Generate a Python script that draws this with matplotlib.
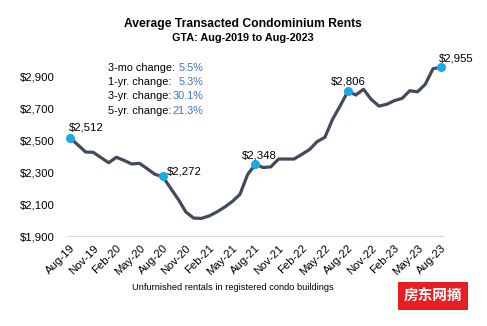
import numpy as np
import matplotlib
matplotlib.use("Agg")
import matplotlib.pyplot as plt
from matplotlib.ticker import StrMethodFormatter

plt.rcParams['font.family'] = ['Liberation Sans', 'DejaVu Sans']

# monthly average transacted rent, Aug-2019 .. Aug-2023
months = ["Aug-19", "Sep-19", "Oct-19", "Nov-19", "Dec-19", "Jan-20", "Feb-20", "Mar-20",
          "Apr-20", "May-20", "Jun-20", "Jul-20", "Aug-20", "Sep-20", "Oct-20", "Nov-20",
          "Dec-20", "Jan-21", "Feb-21", "Mar-21", "Apr-21", "May-21", "Jun-21", "Jul-21",
          "Aug-21", "Sep-21", "Oct-21", "Nov-21", "Dec-21", "Jan-22", "Feb-22", "Mar-22",
          "Apr-22", "May-22", "Jun-22", "Jul-22", "Aug-22", "Sep-22", "Oct-22", "Nov-22",
          "Dec-22", "Jan-23", "Feb-23", "Mar-23", "Apr-23", "May-23", "Jun-23", "Jul-23",
          "Aug-23"]
rents = [2512, 2470, 2425, 2423, 2390, 2358, 2392, 2372,
         2350, 2354, 2320, 2285, 2272, 2200, 2130, 2050,
         2012, 2010, 2025, 2050, 2080, 2115, 2160, 2285,
         2348, 2328, 2332, 2381, 2381, 2381, 2410, 2440,
         2490, 2517, 2630, 2715, 2806, 2781, 2817, 2754,
         2712, 2723, 2746, 2760, 2808, 2801, 2848, 2945,
         2955]

# highlighted points
marked = ["Aug-19", "Aug-20", "Aug-21", "Aug-22", "Aug-23"]

change_labels = ["3-mo change:", "1-yr. change:", "3-yr. change:", "5-yr. change:"]
change_values = ["5.5%", "5.3%", "30.1%", "21.3%"]

W, H = 487, 326
fig = plt.figure(figsize=(W / 100, H / 100), dpi=100)
ax = fig.add_axes([67 / W, 1 - 236 / H, (443 - 67) / W, (236 - 60) / H])

x = np.arange(len(months))
ax.plot(x, rents, color='#414B5B', lw=2.3, solid_capstyle='round', zorder=2, clip_on=False)

idx = [months.index(m) for m in marked]
ax.plot(idx, [rents[i] for i in idx], 'o', color='#19A9E8', ms=5.5, zorder=3, clip_on=False)

# value labels next to the highlighted points
offsets = {"Aug-19": ((-1, 4), 'left', 'bottom'),
           "Aug-20": ((3, 0), 'left', 'bottom'),
           "Aug-21": ((3, 3), 'center', 'bottom'),
           "Aug-22": ((0, 3), 'center', 'bottom'),
           "Aug-23": ((-1, 3), 'left', 'bottom')}
for m, i in zip(marked, idx):
    off, ha, va = offsets[m]
    ax.annotate(f"${rents[i]:,}", (i, rents[i]), xytext=off, textcoords='offset points',
                ha=ha, va=va, fontsize=8.2)

ax.set_xlim(-0.4, 48.3)
ax.set_ylim(1900, 3000)
ax.set_yticks(np.arange(1900, 3000, 200))
ax.yaxis.set_major_formatter(StrMethodFormatter('${x:,.0f}'))
ax.set_xticks(x[::3])
ax.set_xticklabels(months[::3], rotation=45, ha='right', rotation_mode='anchor')
ax.tick_params(length=0, labelsize=8.2, pad=5)
ax.tick_params(axis='y', pad=9)

for s in ['top', 'right', 'left']:
    ax.spines[s].set_visible(False)
ax.spines['bottom'].set_color('#D9D9D9')

fig.text(243 / W, 1 - 24 / H, "Average Transacted Condominium Rents", ha='center', va='center',
         fontsize=8.7, fontweight='bold')
fig.text(243 / W, 1 - 38 / H, "GTA: Aug-2019 to Aug-2023", ha='center', va='center',
         fontsize=7.8, fontweight='bold')

for k, (lab, val) in enumerate(zip(change_labels, change_values)):
    yy = 1 - (68 + 14.2 * k) / H
    fig.text(108 / W, yy, lab, ha='left', va='center', fontsize=7.8)
    fig.text(203 / W, yy, val, ha='right', va='center', fontsize=7.8, color='#4472C4')

fig.text(233 / W, 1 - 287 / H, "Unfurnished rentals in registered condo buildings",
         ha='center', va='center', fontsize=6.7)

fig.text(433 / W, 1 - 296 / H, "房东网摘", ha='center', va='center', fontsize=10.5,
         fontweight='bold', color='white', family=['Noto Sans CJK SC', 'DejaVu Sans'],
         bbox=dict(boxstyle='square,pad=0.4', fc='#E81E25', ec='none'))

fig.savefig("out.png", dpi=100)
